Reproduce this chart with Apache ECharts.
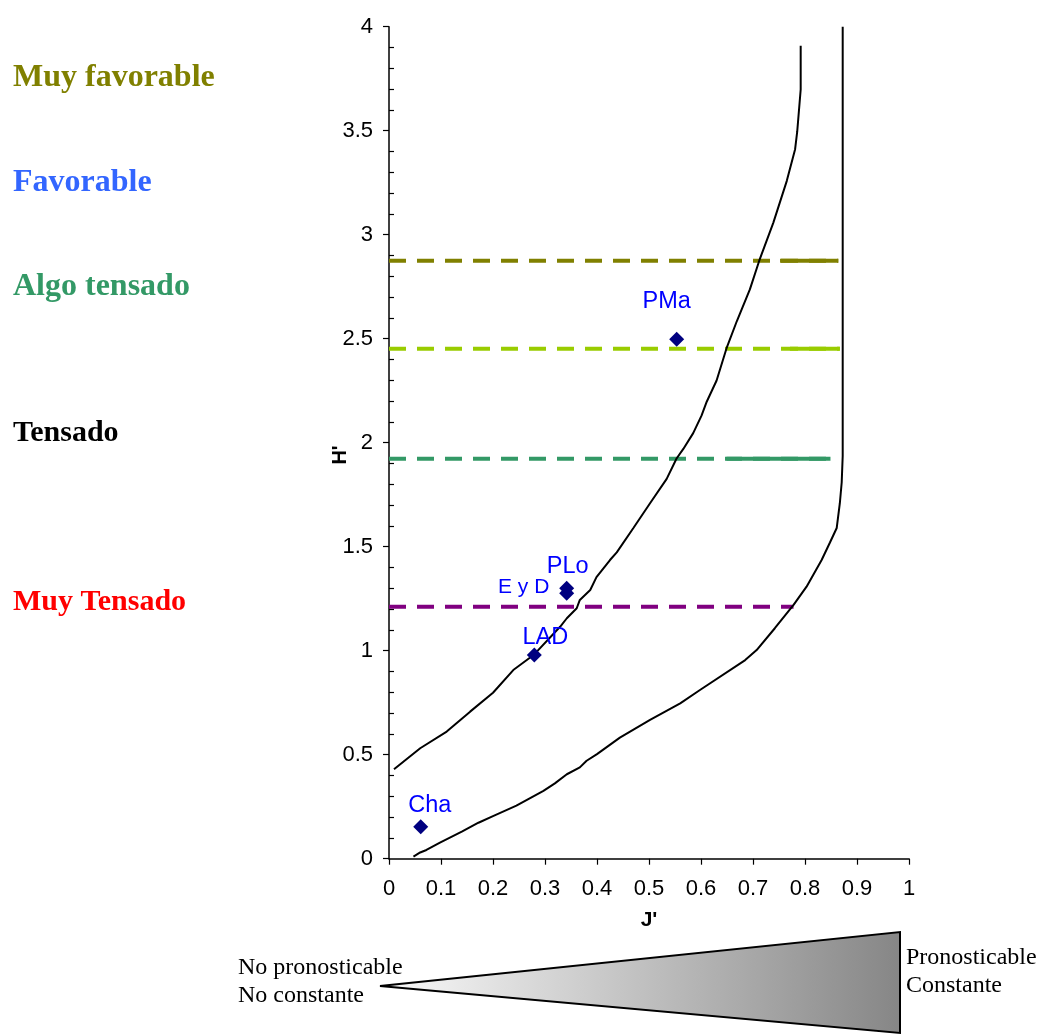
<!DOCTYPE html>
<html>
<head>
<meta charset="utf-8">
<script src="https://cdn.jsdelivr.net/npm/echarts@6/dist/echarts.min.js"></script>
<style>
  html, body { margin: 0; padding: 0; background: #ffffff; }
  #chart { width: 1039px; height: 1036px; }
</style>
</head>
<body>
<div id="chart"></div>
<script>
// Sites placed on the H' / J' diagram
const siteNames = ['Cha', 'LAD', 'E y D', 'PLo', 'PMa'];
const siteJ = [0.061, 0.2795, 0.3417, 0.3417, 0.5533];
const siteH = [0.154, 0.979, 1.276, 1.300, 2.497];

// Inner boundary curve
const innerJ = [0.0096, 0.060, 0.111, 0.156, 0.200, 0.239, 0.278, 0.329, 0.342, 0.361, 0.367, 0.387,
                0.399, 0.425, 0.438, 0.470, 0.502, 0.534, 0.553, 0.566, 0.585, 0.601, 0.611, 0.630,
                0.649, 0.669, 0.694, 0.712, 0.739, 0.752, 0.765, 0.781, 0.785, 0.7917, 0.7917];
const innerH = [0.430, 0.531, 0.611, 0.707, 0.798, 0.907, 0.979, 1.115, 1.156, 1.204, 1.244, 1.292,
                1.354, 1.436, 1.473, 1.590, 1.709, 1.826, 1.924, 1.970, 2.046, 2.130, 2.197, 2.299,
                2.453, 2.585, 2.737, 2.875, 3.057, 3.158, 3.259, 3.411, 3.495, 3.698, 3.908];

// Outer boundary curve
const outerJ = [0.047, 0.060, 0.072, 0.098, 0.140, 0.172, 0.200, 0.245, 0.297, 0.319, 0.342, 0.367,
                0.380, 0.400, 0.444, 0.502, 0.560, 0.598, 0.685, 0.707, 0.742, 0.778, 0.803, 0.832,
                0.848, 0.861, 0.867, 0.8706, 0.8725, 0.8725];
const outerH = [0.010, 0.030, 0.042, 0.077, 0.130, 0.173, 0.205, 0.255, 0.326, 0.362, 0.406, 0.439,
                0.471, 0.503, 0.582, 0.667, 0.747, 0.811, 0.955, 1.003, 1.108, 1.220, 1.308, 1.436,
                1.520, 1.590, 1.709, 1.810, 1.936, 4.000];

// Horizontal thresholds between zones
const thresholdH = [2.875, 2.452, 1.923, 1.2115];
const thresholdEndJ = [0.864, 0.867, 0.849, 0.778];
const thresholdSolidFromJ = [0.752, 0.771, 0.649, null];
const thresholdColors = ['#808000', '#99CC00', '#339966', '#800080'];

// Zone names shown at the left
const zoneNames = ['Muy favorable', 'Favorable', 'Algo tensado', 'Tensado', 'Muy Tensado'];
const zoneColors = ['#808000', '#3366FF', '#339966', '#000000', '#FF0000'];
const zoneLabelY = [78, 183, 287, 433, 602];
const zoneLabelSize = [32, 32, 32, 30, 30];

// Scale captions under the J' axis
const scaleLeft = ['No pronosticable', 'No constante'];
const scaleRight = ['Pronosticable', 'Constante'];

// Label placement around each site marker
const siteLabelOffset = {
  'Cha': [9, -21], 'LAD': [11, -18], 'E y D': [-43, -6], 'PLo': [1, -22], 'PMa': [-10, -38]
};
const siteLabelSize = { 'E y D': 21 };

const SANS = '"Liberation Sans", Arial, sans-serif';
const SERIF = '"Liberation Serif", "Times New Roman", serif';

const series = [];

thresholdH.forEach(function (h, i) {
  series.push({
    type: 'line', silent: true, showSymbol: false, symbol: 'none', z: 2,
    data: [[0, h], [thresholdEndJ[i], h]],
    lineStyle: { color: thresholdColors[i], width: 4, type: [17, 11], cap: 'butt' }
  });
  if (thresholdSolidFromJ[i] !== null) {
    series.push({
      type: 'line', silent: true, showSymbol: false, symbol: 'none', z: 2,
      data: [[thresholdSolidFromJ[i], h], [thresholdEndJ[i], h]],
      lineStyle: { color: thresholdColors[i], width: 4, type: 'solid', cap: 'butt' }
    });
  }
});

series.push({
  type: 'line', silent: true, showSymbol: false, symbol: 'none', z: 3,
  data: innerJ.map(function (j, i) { return [j, innerH[i]]; }),
  lineStyle: { color: '#000000', width: 2 }
});
series.push({
  type: 'line', silent: true, showSymbol: false, symbol: 'none', z: 3,
  data: outerJ.map(function (j, i) { return [j, outerH[i]]; }),
  lineStyle: { color: '#000000', width: 2 }
});

series.push({
  type: 'scatter', z: 5, symbol: 'diamond', symbolSize: 15,
  itemStyle: { color: '#000080', opacity: 1 },
  label: {
    show: true, position: 'inside', formatter: '{b}', color: '#0000FF', opacity: 1,
    fontFamily: SANS, fontSize: 23.5
  },
  data: siteNames.map(function (n, i) {
    return {
      name: n, value: [siteJ[i], siteH[i]],
      label: { offset: siteLabelOffset[n], fontSize: siteLabelSize[n] || 23.5 }
    };
  })
});

const graphics = [];
zoneNames.forEach(function (n, i) {
  graphics.push({
    type: 'text', x: 13, y: zoneLabelY[i], silent: true,
    style: { text: n, fill: zoneColors[i], font: 'bold ' + zoneLabelSize[i] + 'px ' + SERIF,
             align: 'left', verticalAlign: 'middle' }
  });
});
graphics.push({
  type: 'text', x: 340, y: 455, rotation: Math.PI / 2, silent: true,
  style: { text: "H'", fill: '#000000', font: 'bold 20px ' + SANS, align: 'center', verticalAlign: 'middle' }
});
graphics.push({
  type: 'polygon', silent: true,
  shape: { points: [[380, 986], [900, 932], [900, 1033]] },
  style: {
    fill: { type: 'linear', x: 0, y: 0, x2: 1, y2: 0,
            colorStops: [{ offset: 0, color: '#fbfbfb' }, { offset: 1, color: '#868686' }] },
    stroke: '#000000', lineWidth: 2
  }
});
scaleLeft.forEach(function (t, i) {
  graphics.push({
    type: 'text', x: 238, y: 968 + i * 28, silent: true,
    style: { text: t, fill: '#000000', font: '24px ' + SERIF, align: 'left', verticalAlign: 'middle' }
  });
});
scaleRight.forEach(function (t, i) {
  graphics.push({
    type: 'text', x: 906, y: 958 + i * 28, silent: true,
    style: { text: t, fill: '#000000', font: '24px ' + SERIF, align: 'left', verticalAlign: 'middle' }
  });
});

const chart = echarts.init(document.getElementById('chart'), null, { renderer: 'canvas' });
chart.setOption({
  backgroundColor: '#ffffff',
  animation: false,
  grid: { left: 389, right: 130, top: 26.7, bottom: 177.3, containLabel: false, outerBoundsMode: 'none' },
  xAxis: {
    type: 'value', min: 0, max: 1, interval: 0.1,
    name: "J'", nameLocation: 'middle', nameGap: 51,
    nameTextStyle: { fontFamily: SANS, fontWeight: 'bold', fontSize: 21, color: '#000000' },
    axisLine: { show: true, onZero: false, lineStyle: { color: '#000000', width: 1.5 } },
    axisTick: { show: true, inside: false, length: 6, lineStyle: { color: '#000000', width: 1.2 } },
    axisLabel: { show: true, fontFamily: SANS, fontSize: 22, color: '#000000', margin: 19 },
    splitLine: { show: false }
  },
  yAxis: [{
    type: 'value', min: 0, max: 4, interval: 0.5, position: 'left',
    axisLine: { show: true, onZero: false, lineStyle: { color: '#000000', width: 1.5 } },
    axisTick: { show: true, inside: false, length: 6, lineStyle: { color: '#000000', width: 1.2 } },
    axisLabel: { show: true, fontFamily: SANS, fontSize: 22, color: '#000000', margin: 16 },
    splitLine: { show: false }
  }, {
    // same scale on the same edge; only its minor ticks are drawn, pointing into the plot
    type: 'value', min: 0, max: 4, interval: 0.5, position: 'left', offset: 0,
    axisLine: { show: false },
    axisTick: { show: true, inside: true, length: 0, lineStyle: { width: 0, opacity: 0 } },
    axisLabel: { show: false },
    minorTick: { show: true, splitNumber: 5, length: 5, lineStyle: { color: '#000000', width: 1.2, opacity: 1 } },
    splitLine: { show: false }, minorSplitLine: { show: false }
  }],
  series: series,
  graphic: graphics
});
</script>
</body>
</html>
